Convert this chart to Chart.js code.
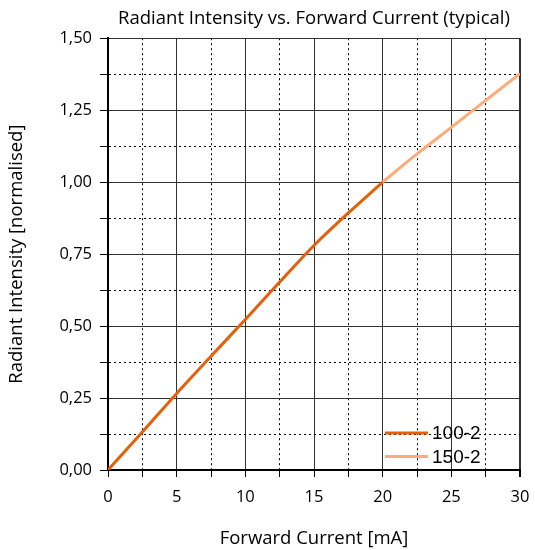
<!DOCTYPE html>
<html>
<head>
<meta charset="utf-8">
<script src="https://cdn.jsdelivr.net/npm/chart.js@4"></script>
<style>
  html, body { margin: 0; padding: 0; background: #fff; }
  #wrap { width: 535px; height: 550px; }
</style>
</head>
<body>
<div id="wrap"><canvas id="irChart" width="535" height="550"></canvas></div>
<script>
// current in mA, intensity normalised to 20 mA
var current100 = [0, 2.5, 5, 7.5, 10, 12.5, 15, 17.5, 20];
var intensity100 = [0, 0.132, 0.266, 0.395, 0.523, 0.653, 0.78, 0.893, 1.0];
var current150 = [20, 22.5, 25, 27.5, 30];
var intensity150 = [1.0, 1.098, 1.19, 1.284, 1.377];
var seriesNames = ['100-2', '150-2'];
var seriesColors = ['#e85f0a', '#ffab78'];

function pts(xs, ys) {
  return xs.map(function (x, i) { return { x: x, y: ys[i] }; });
}

function isMajor(v, step) {
  return Math.abs(v / step - Math.round(v / step)) < 1e-6;
}

var font = "'Open Sans', 'Noto Sans', sans-serif";

// legend drawn inside the plot, bottom right
var insideLegend = {
  id: 'insideLegend',
  afterDatasetsDraw: function (chart) {
    var c = chart.ctx, a = chart.chartArea;
    c.save();
    chart.data.datasets.forEach(function (ds, i) {
      var y = a.bottom - 37 + i * 23.5;
      c.strokeStyle = ds.borderColor;
      c.lineWidth = 3;
      c.beginPath();
      c.moveTo(a.right - 135, y);
      c.lineTo(a.right - 92, y);
      c.stroke();
      c.fillStyle = '#000';
      c.font = "19px 'Liberation Sans', Arial, sans-serif";
      c.textBaseline = 'middle';
      c.fillText(ds.label, a.right - 88, y + 1);
    });
    c.restore();
  }
};

var ctx = document.getElementById('irChart').getContext('2d');
var irChart = new Chart(ctx, {
  type: 'line',
  data: {
    datasets: [
      {
        label: seriesNames[0],
        data: pts(current100, intensity100),
        borderColor: seriesColors[0],
        borderWidth: 3,
        pointRadius: 0,
        tension: 0.3
      },
      {
        label: seriesNames[1],
        data: pts(current150, intensity150),
        borderColor: seriesColors[1],
        borderWidth: 3,
        pointRadius: 0,
        tension: 0.3
      }
    ]
  },
  options: {
    responsive: false,
    animation: false,
    layout: { padding: { left: 0, right: 15, top: 0, bottom: 0 } },
    plugins: {
      legend: { display: false },
      tooltip: { enabled: false },
      title: {
        display: true,
        fullSize: false,
        text: 'Radiant Intensity vs. Forward Current (typical)',
        color: '#000',
        font: { family: font, size: 18.5, weight: 'normal' },
        padding: { top: 8, bottom: 8 }
      }
    },
    scales: {
      x: {
        type: 'linear',
        min: 0,
        max: 30,
        afterFit: function (s) { s.height = 80; s.paddingRight = 15; },
        ticks: {
          stepSize: 2.5,
          autoSkip: false,
          maxRotation: 0,
          padding: 10,
          color: '#000',
          font: { family: font, size: 16.5 },
          callback: function (v) { return isMajor(v, 5) ? String(v) : ''; }
        },
        grid: {
          color: function (c) { return isMajor(c.tick.value, 5) ? '#333' : '#000'; },
          lineWidth: function (c) { return c.tick.value === 30 ? 2 : 1; },
          tickColor: '#000',
          tickLength: 7
        },
        border: {
          display: true,
          color: '#000',
          width: 2,
          dash: function (c) { return isMajor(c.tick.value, 5) ? [] : [2, 3]; }
        },
        title: {
          display: true,
          text: 'Forward Current [mA]',
          color: '#000',
          font: { family: font, size: 18.5 },
          padding: { top: 0, bottom: 0 }
        }
      },
      y: {
        type: 'linear',
        min: 0,
        max: 1.5,
        afterFit: function (s) { s.width = 108; },
        ticks: {
          stepSize: 0.125,
          autoSkip: false,
          padding: 8,
          color: '#000',
          font: { family: font, size: 16.5 },
          callback: function (v) {
            return isMajor(v, 0.25) ? v.toFixed(2).replace('.', ',') : '';
          }
        },
        grid: {
          color: function (c) { return isMajor(c.tick.value, 0.25) ? '#333' : '#000'; },
          lineWidth: 1,
          tickColor: '#000',
          tickLength: 8
        },
        border: {
          display: true,
          color: '#000',
          width: 2,
          dash: function (c) { return isMajor(c.tick.value, 0.25) ? [] : [2, 3]; }
        },
        title: {
          display: true,
          text: 'Radiant Intensity [normalised]',
          color: '#000',
          font: { family: font, size: 18.5 },
          padding: { top: 6, bottom: 0 }
        }
      }
    }
  },
  plugins: [insideLegend]
});
</script>
</body>
</html>
